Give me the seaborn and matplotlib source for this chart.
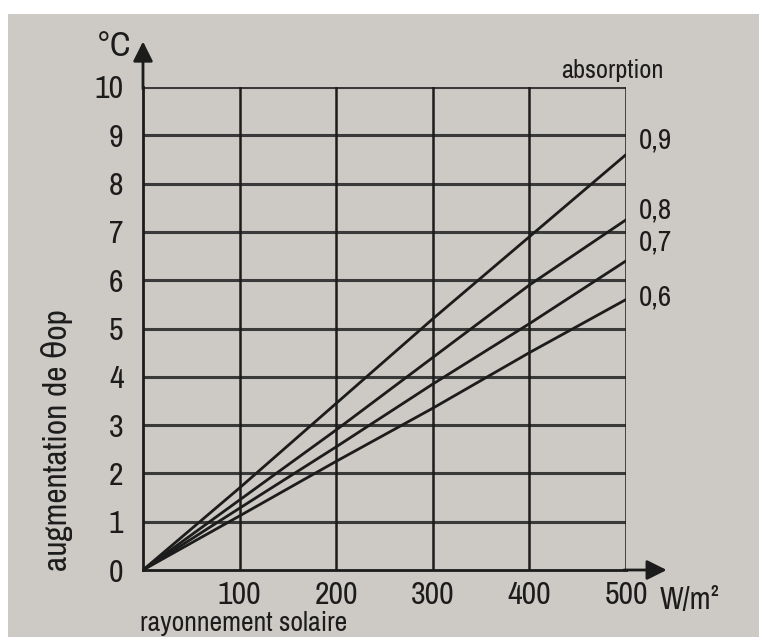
import matplotlib
matplotlib.use("Agg")
import matplotlib.pyplot as plt
from matplotlib.patches import Rectangle
from matplotlib import font_manager
import numpy as np
import seaborn as sns
import pandas as pd

# solar radiation (W/m2) and temperature rise (°C)
radiation = [0, 100, 200, 300, 400, 500]
rise_09 = [0, 1.70, 3.45, 5.20, 6.90, 8.60]
rise_08 = [0, 1.45, 2.90, 4.40, 5.90, 7.25]
rise_07 = [0, 1.28, 2.55, 3.85, 5.10, 6.40]
rise_06 = [0, 1.12, 2.25, 3.35, 4.50, 5.60]
absorption = ["0,9", "0,8", "0,7", "0,6"]
x_ticks = [100, 200, 300, 400, 500]
y_ticks = list(range(0, 11))

df = pd.DataFrame({
    "radiation": radiation * 4,
    "rise": rise_09 + rise_08 + rise_07 + rise_06,
    "absorption": np.repeat(absorption, len(radiation)),
})

sns.set_theme(style="white")
# the printed chart uses a narrow DIN-like face; take any condensed family
names = sorted({f.name for f in font_manager.fontManager.ttflist})
narrow = [n for n in names if "Narrow" in n or "Condensed" in n]
plt.rcParams["font.family"] = narrow[:1] + ["DejaVu Sans"]
plt.rcParams["font.stretch"] = "condensed"

paper = "#cdc9c4"
ink = "#1c1c1c"

fig = plt.figure(figsize=(7.59, 6.37), dpi=100, facecolor="white")
# photo of the page, with a white border at top and left
fig.patches.append(Rectangle((8 / 759, 0), 1, 1 - 14 / 637, transform=fig.transFigure,
                             facecolor=paper, edgecolor="none", zorder=-10))
ax = fig.add_axes([143 / 759, 67 / 637, 483 / 759, 483 / 637])
ax.set_facecolor(paper)

sns.lineplot(data=df, x="radiation", y="rise", hue="absorption",
             palette=[ink] * 4, linewidth=2, legend=False, ax=ax)

ax.set_xlim(0, 500)
ax.set_ylim(0, 10)
ax.set_xticks(x_ticks)
ax.set_yticks(y_ticks)
ax.set_xticklabels([str(v) for v in x_ticks])
ax.set_yticklabels([str(v) for v in y_ticks])
ax.tick_params(axis="both", length=0, labelsize=23, colors=ink)
ax.tick_params(axis="x", pad=8)
ax.tick_params(axis="y", pad=14)
ax.set_xlabel("")
ax.set_ylabel("")

# grid: horizontal lines greyer, vertical darker
for y in y_ticks[1:]:
    ax.axhline(y, color="#3a3a3a", linewidth=2.2, zorder=1)
for x in x_ticks:
    ax.axvline(x, color=ink, linewidth=1.8, zorder=1)

for side in ["top", "right"]:
    ax.spines[side].set_visible(False)
for side in ["left", "bottom"]:
    ax.spines[side].set_color(ink)
    ax.spines[side].set_linewidth(2)

# axis arrows
ax.annotate("", xy=(0, 11.0), xytext=(0, 9.9), xycoords="data",
            arrowprops=dict(arrowstyle="-|>,head_width=0.5,head_length=1.0",
                            color=ink, lw=2), annotation_clip=False)
ax.annotate("", xy=(545, 0), xytext=(495, 0), xycoords="data",
            arrowprops=dict(arrowstyle="-|>,head_width=0.5,head_length=1.0",
                            color=ink, lw=2), annotation_clip=False)

ax.text(-12, 10.85, "°C", fontsize=25, color=ink, ha="right", va="center")
ax.text(486, 10.35, "absorption", fontsize=19, color=ink, ha="center", va="center")
label_y = [8.9, 7.45, 6.8, 5.65]
for lab, yy in zip(absorption, label_y):
    ax.text(513, yy, lab, fontsize=21, color=ink, ha="left", va="center")
ax.text(535, -0.62, "W/m²", fontsize=22, color=ink, ha="left", va="center")

fig.text(57 / 759, 1 - 440 / 637, "augmentation de θop", rotation=90,
         fontsize=24, color=ink, ha="center", va="center")
fig.text(140 / 759, 1 / 637, "rayonnement solaire", fontsize=20,
         color=ink, ha="left", va="bottom")

fig.savefig("out.png", dpi=100, facecolor=fig.get_facecolor())
